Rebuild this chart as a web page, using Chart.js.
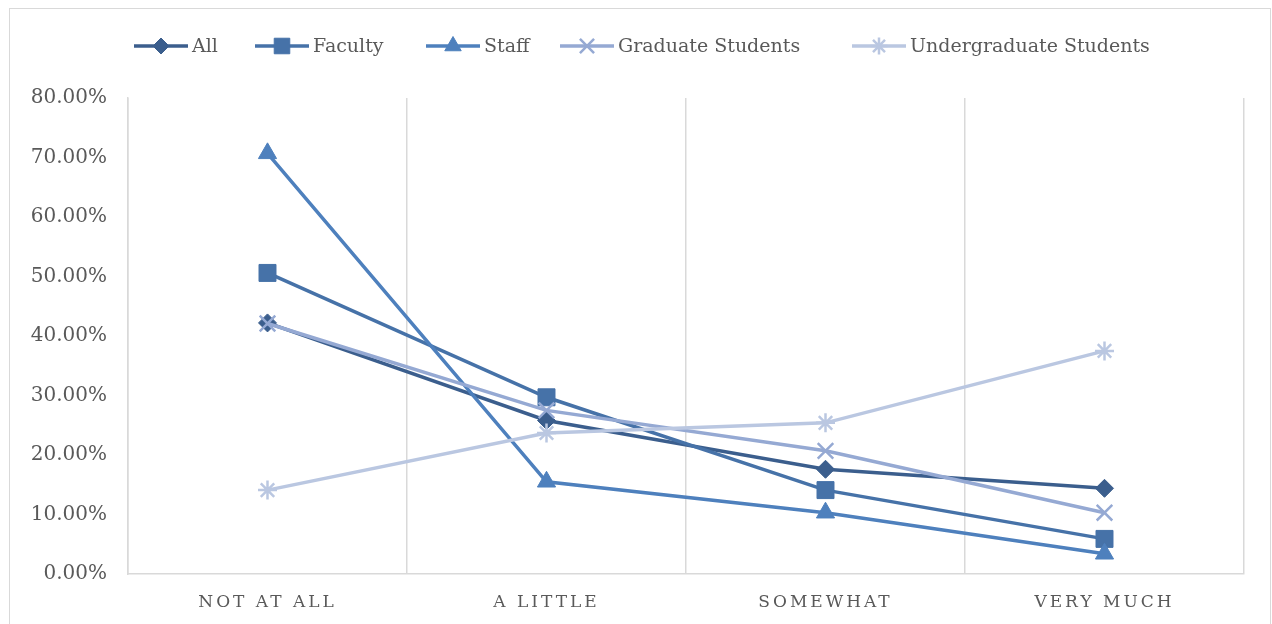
<!DOCTYPE html>
<html>
<head>
<meta charset="utf-8">
<script src="https://cdn.jsdelivr.net/npm/chart.js@4.4.1/dist/chart.umd.min.js"></script>
<style>
  html, body { margin: 0; padding: 0; background: #fff; }
  #wrap { position: relative; width: 1272px; height: 624px; }
  #frame { position: absolute; left: 9px; top: 8px; width: 1262px; height: 630px; border: 1px solid #d9d9d9; box-sizing: border-box; pointer-events: none; }
  canvas { position: absolute; left: 0; top: 0; }
</style>
</head>
<body>
<div id="wrap">
  <canvas id="chart" width="1272" height="624"></canvas>
  <div id="frame"></div>
</div>
<script>
// Survey responses by group (percent)
const categories = ['NOT AT ALL', 'A LITTLE', 'SOMEWHAT', 'VERY MUCH'];
const seriesNames = ['All', 'Faculty', 'Staff', 'Graduate Students', 'Undergraduate Students'];
const allValues = [42.2, 25.8, 17.6, 14.4];
const facultyValues = [50.6, 29.7, 14.1, 5.9];
const staffValues = [70.7, 15.5, 10.3, 3.4];
const gradValues = [42.1, 27.5, 20.7, 10.3];
const undergradValues = [14.1, 23.7, 25.4, 37.5];
const yTicks = [0, 10, 20, 30, 40, 50, 60, 70, 80];

const colors = ['#3b5e8d', '#4672a8', '#4e80bd', '#95a9d3', '#bac7e1'];
const markers = ['rectRot', 'rect', 'triangle', 'crossRot', 'star'];
const markerSize = [9, 12, 10.5, 11, 9.5];
const legendX = [134, 255, 426, 560, 852];
const textGray = '#595959';
const serif = '"DejaVu Serif", serif';

const values = [allValues, facultyValues, staffValues, gradValues, undergradValues];

const datasets = seriesNames.map((name, i) => ({
  label: name,
  data: values[i],
  borderColor: colors[i],
  backgroundColor: colors[i],
  borderWidth: 3.5,
  pointStyle: markers[i],
  pointRadius: markerSize[i],
  pointHoverRadius: markerSize[i],
  pointBorderWidth: markers[i] === 'crossRot' || markers[i] === 'star' ? 2.5 : 1,
  pointBorderColor: colors[i],
  pointBackgroundColor: colors[i],
  order: seriesNames.length - i,
  tension: 0
}));

// spaced-out category labels like the original
const spacedLabels = {
  id: 'spacedLabels',
  beforeDraw(chart) {
    const sx = chart.scales.x;
    if (sx && !sx._spaced) {
      const orig = sx.drawLabels.bind(sx);
      sx.drawLabels = function(area) {
        const ctx = chart.ctx;
        ctx.save();
        ctx.letterSpacing = '3px';
        orig(area);
        ctx.restore();
      };
      sx._spaced = true;
    }
  }
};

// legend with line + marker, like Excel
const lineLegend = {
  id: 'lineLegend',
  afterDraw(chart) {
    const ctx = chart.ctx;
    const y = 46;
    ctx.save();
    ctx.font = '19px ' + serif;
    ctx.textBaseline = 'middle';
    seriesNames.forEach((name, i) => {
      const x0 = legendX[i];
      ctx.strokeStyle = colors[i];
      ctx.lineWidth = 3.5;
      ctx.beginPath();
      ctx.moveTo(x0, y);
      ctx.lineTo(x0 + 54, y);
      ctx.stroke();
      ctx.fillStyle = colors[i];
      ctx.lineWidth = datasets[i].pointBorderWidth;
      Chart.helpers.drawPoint(ctx, { pointStyle: markers[i], radius: markerSize[i] - 1, rotation: 0, borderWidth: datasets[i].pointBorderWidth }, x0 + 27, y);
      ctx.fillStyle = textGray;
      ctx.fillText(name, x0 + 58, y + 1);
    });
    ctx.restore();
  }
};

new Chart(document.getElementById('chart'), {
  type: 'line',
  data: { labels: categories, datasets },
  plugins: [spacedLabels, lineLegend],
  options: {
    responsive: false,
    animation: false,
    layout: { padding: { top: 98, right: 28, bottom: 0, left: 0 } },
    plugins: {
      legend: { display: false },
      tooltip: { enabled: false }
    },
    scales: {
      x: {
        offset: true,
        grid: { display: true, offset: true, color: '#d9d9d9', lineWidth: 1.5, drawTicks: false },
        border: { display: true, color: '#d9d9d9', width: 1.5 },
        ticks: { color: textGray, font: { family: serif, size: 17 }, padding: 18, maxRotation: 0 },
        afterFit(scale) { scale.height = 50; }
      },
      y: {
        min: 0,
        max: 80,
        afterBuildTicks(scale) { scale.ticks = yTicks.map(v => ({ value: v })); },
        grid: { display: false, drawTicks: false },
        border: { display: true, color: '#d9d9d9', width: 1.5 },
        ticks: {
          color: textGray,
          font: { family: serif, size: 20 },
          padding: 21,
          callback: v => v.toFixed(2) + '%'
        },
        afterFit(scale) { scale.width = 128; }
      }
    }
  }
});
</script>
</body>
</html>
